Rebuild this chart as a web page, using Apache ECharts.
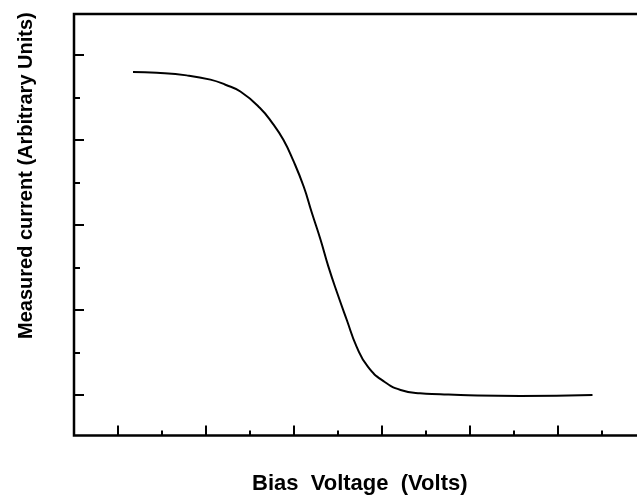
<!DOCTYPE html>
<html>
<head>
<meta charset="utf-8">
<style>
  html, body { margin: 0; padding: 0; background: #ffffff; overflow: hidden; }
  /* plot frame runs past the right edge of the window */
  #chart { width: 670px; height: 498px; }
</style>
<script src="https://cdn.jsdelivr.net/npm/echarts@6/dist/echarts.min.js"></script>
</head>
<body>
<div id="chart"></div>
<script>
// Bias sweep: measured current vs bias voltage (arbitrary units)
const biasVoltage = [0.67, 0.94, 1.28, 1.55, 1.72, 1.89, 2.11, 2.26, 2.38, 2.49, 2.61, 2.70, 2.80, 2.89, 2.99, 3.10, 3.21, 3.34, 3.52, 3.71, 3.93, 4.16, 4.39, 5.07, 5.89];
const measuredCurrent = [3.80, 3.79, 3.76, 3.71, 3.65, 3.57, 3.38, 3.19, 3.00, 2.76, 2.45, 2.15, 1.83, 1.51, 1.20, 0.88, 0.57, 0.33, 0.16, 0.06, 0.02, 0.01, 0.00, -0.01, 0.00];

// Tick positions (no tick labels are shown)
const xMajorTicks = [0.5, 1.5, 2.5, 3.5, 4.5, 5.5, 6.5];
const xMinorTicks = [1, 2, 3, 4, 5, 6];
const yMajorTicks = [0, 1, 2, 3, 4];
const yMinorTicks = [0.5, 1.5, 2.5, 3.5];

const xRange = [0, 6.6];
const yRange = [-0.476, 4.482];

const chart = echarts.init(document.getElementById('chart'), null, { renderer: 'canvas' });

const hiddenLabels = { show: false };
const noSplit = { show: false };

function xAxisDef(ticks, len) {
  return {
    type: 'value', position: 'bottom', min: xRange[0], max: xRange[1],
    axisLine: { show: false, onZero: false },
    axisTick: { show: true, inside: true, length: len, customValues: ticks,
                lineStyle: { color: '#000', width: 2 } },
    axisLabel: hiddenLabels, splitLine: noSplit
  };
}
function yAxisDef(ticks, len) {
  return {
    type: 'value', position: 'left', min: yRange[0], max: yRange[1],
    axisLine: { show: false, onZero: false },
    axisTick: { show: true, inside: true, length: len, customValues: ticks,
                lineStyle: { color: '#000', width: 2 } },
    axisLabel: hiddenLabels, splitLine: noSplit
  };
}

chart.setOption({
  animation: false,
  backgroundColor: '#ffffff',
  grid: {
    left: 74, top: 14, width: 581, height: 421.5,
    show: true, borderColor: '#000', borderWidth: 2.5, backgroundColor: 'transparent'
  },
  xAxis: [xAxisDef(xMajorTicks, 10), xAxisDef(xMinorTicks, 5)],
  yAxis: [yAxisDef(yMajorTicks, 10), yAxisDef(yMinorTicks, 6)],
  graphic: [
    {
      type: 'text', left: 252, top: 473,
      style: { text: 'Bias  Voltage  (Volts)', fill: '#000',
               font: 'bold 22px "Liberation Sans", Arial, sans-serif' }
    },
    {
      type: 'text', x: 26, y: 339, rotation: Math.PI / 2,
      style: { text: 'Measured current (Arbitrary Units)', fill: '#000',
               font: 'bold 20px "Liberation Sans", Arial, sans-serif',
               align: 'left', verticalAlign: 'middle' }
    }
  ],
  series: [{
    type: 'line',
    xAxisIndex: 0, yAxisIndex: 0,
    data: biasVoltage.map((v, i) => [v, measuredCurrent[i]]),
    smooth: 0.5,
    showSymbol: false,
    lineStyle: { color: '#000', width: 2 }
  }]
});
</script>
</body>
</html>
